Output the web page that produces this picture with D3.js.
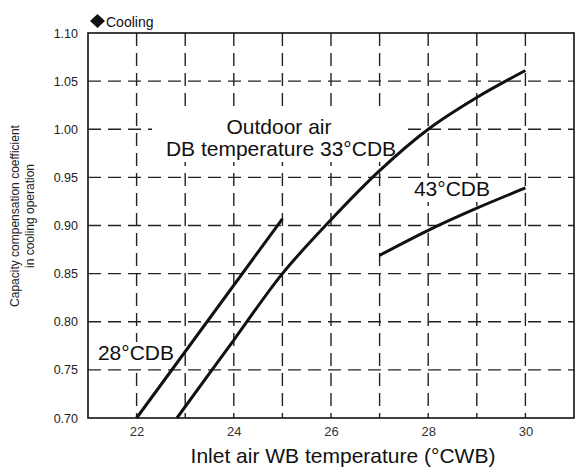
<!DOCTYPE html>
<html><head><meta charset="utf-8">
<script src="https://cdn.jsdelivr.net/npm/d3@7"></script>
<style>body{margin:0;background:#fff}svg{display:block;font-family:"Liberation Sans",Arial,sans-serif}</style>
</head><body><svg id="c" width="575" height="468"></svg>
<script>
const xTicks = [22, 24, 26, 28, 30];
const yTicks = [0.70, 0.75, 0.80, 0.85, 0.90, 0.95, 1.00, 1.05, 1.10];
const xGrid = [22, 23, 24, 25, 26, 27, 28, 29, 30];
const s28x = [22, 25];
const s28y = [0.70, 0.907];
const s33x = [22.83, 24, 25, 26, 27, 28, 29, 30];
const s33y = [0.70, 0.781, 0.850, 0.906, 0.957, 1.0, 1.033, 1.061];
const s43x = [27, 28, 29, 30];
const s43y = [0.869, 0.895, 0.918, 0.939];

const svg = d3.select("#c");
const L = 88, R = 574, T = 33, B = 418;
const x = d3.scaleLinear().domain([21, 31]).range([L, R]);
const y = d3.scaleLinear().domain([0.70, 1.10]).range([B, T]);

// grid
svg.append("g").selectAll("line").data(xGrid).join("line")
  .attr("x1", d => x(d)).attr("x2", d => x(d)).attr("y1", T).attr("y2", B)
  .attr("stroke", "#222").attr("stroke-width", 1.4).attr("stroke-dasharray", "13,7");
svg.append("g").selectAll("line").data(yTicks.slice(1, -1)).join("line")
  .attr("x1", L).attr("x2", R).attr("y1", d => y(d)).attr("y2", d => y(d))
  .attr("stroke", "#222").attr("stroke-width", 1.4).attr("stroke-dasharray", "13,7");

// frame
svg.append("rect").attr("x", L).attr("y", T).attr("width", R - L).attr("height", B - T)
  .attr("fill", "none").attr("stroke", "#111").attr("stroke-width", 1.6);

// axes
const xa = svg.append("g").attr("transform", `translate(0,${B})`)
  .call(d3.axisBottom(x).tickValues(xTicks).tickSize(0).tickPadding(9).tickFormat(d3.format("d")));
xa.select(".domain").remove();
xa.selectAll("text").attr("font-size", 13).attr("fill", "#333").attr("font-family", "Liberation Sans, Arial, sans-serif");
const ya = svg.append("g").attr("transform", `translate(${L},0)`)
  .call(d3.axisLeft(y).tickValues(yTicks).tickSize(0).tickPadding(10).tickFormat(d3.format(".2f")));
ya.select(".domain").remove();
ya.selectAll("text").attr("font-size", 12.5).attr("fill", "#222").attr("font-family", "Liberation Sans, Arial, sans-serif");

// label backgrounds (cover grid only)
const bg = (xx, yy, w, h) => svg.append("rect").attr("x", xx).attr("y", yy).attr("width", w).attr("height", h).attr("fill", "#fff");
bg(152, 110, 250, 52); bg(410, 178, 84, 24); bg(94, 342, 84, 24);

// series
const line = d3.line().x(d => x(d[0])).y(d => y(d[1])).curve(d3.curveCatmullRom.alpha(0.5));
[[s28x, s28y], [s33x, s33y], [s43x, s43y]].forEach(([xs, ys]) => {
  svg.append("path").datum(xs.map((v, i) => [v, ys[i]])).attr("d", line)
    .attr("fill", "none").attr("stroke", "#111").attr("stroke-width", 3);
});

// labels
function txt(t, xx, yy, size, anchor) {
  return svg.append("text").attr("x", xx).attr("y", yy).attr("font-size", size)
    .attr("text-anchor", anchor || "start").attr("fill", "#111").text(t);
}
txt("Outdoor air", 279, 134, 21, "middle");
txt("DB temperature 33°CDB", 281, 156, 21, "middle");
txt("43°CDB", 452, 196, 21, "middle");
txt("28°CDB", 136, 360, 21, "middle");
svg.append("path").attr("d", "M97.5,14 L105,21 L97.5,28 L90,21 Z").attr("fill", "#111");
txt("Cooling", 106, 27, 14, "start");
txt("Inlet air WB temperature (°CWB)", 343, 463, 21, "middle");
const yt = svg.append("text").attr("transform", "translate(19,216) rotate(-90)")
  .attr("text-anchor", "middle").attr("font-size", 12).attr("fill", "#222");
yt.append("tspan").attr("x", 0).attr("dy", 0).text("Capacity compensation coefficient");
yt.append("tspan").attr("x", 0).attr("dy", 15).text("in cooling operation");
</script></body></html>
